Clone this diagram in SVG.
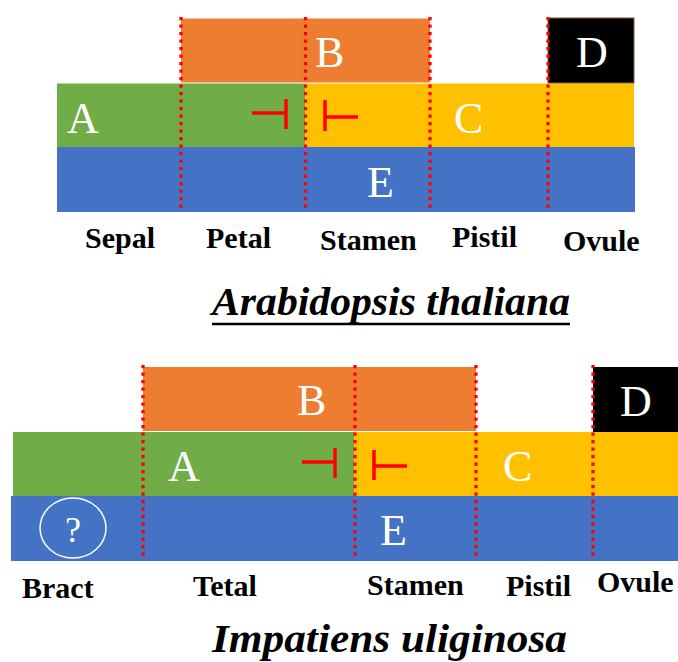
<svg xmlns="http://www.w3.org/2000/svg" width="678" height="662" viewBox="0 0 678 662">
<style>
.o{fill:#ED7D31}.g{fill:#70AD47}.y{fill:#FFC000}.b{fill:#4472C4}.k{fill:#000}
.L{font-family:"Liberation Serif","Times New Roman",serif;font-size:44px;fill:#fff}
.lab{font-family:"Liberation Serif","Times New Roman",serif;font-size:30px;font-weight:bold;fill:#000}
.sp{font-family:"Liberation Serif","Times New Roman",serif;font-size:41px;font-weight:bold;font-style:italic;fill:#000}
.dash{stroke:#FF0000;stroke-width:3.3;stroke-dasharray:3.3 4.2;fill:none}
.inh{stroke:#FF0000;stroke-width:3.5;fill:none}
</style>
<rect width="678" height="662" fill="#fff"/>
<!-- Top diagram -->
<g id="top-E"><rect class="b" x="57" y="147" width="578" height="65"/><text class="L" x="367" y="197">E</text></g>
<g id="top-A"><rect class="g" x="57" y="83.5" width="248" height="63.5"/><text class="L" x="67" y="133">A</text></g>
<g id="top-C"><rect class="y" x="305" y="83.5" width="329" height="63.5"/><text class="L" x="454" y="133">C</text></g>
<g id="top-B"><rect class="o" x="181" y="18.5" width="249" height="64"/><text class="L" x="315" y="67">B</text></g>
<g id="top-D"><rect class="k" x="548" y="18" width="86" height="65" stroke="#7f5a2a" stroke-width="1"/><text class="L" x="576" y="67">D</text></g>
<g id="top-connectors">
<line class="dash" x1="181" y1="17" x2="181" y2="212"/>
<line class="dash" x1="305.5" y1="17" x2="305.5" y2="212"/>
<line class="dash" x1="430" y1="17" x2="430" y2="212"/>
<line class="dash" x1="548" y1="17" x2="548" y2="212"/>
<path class="inh" d="M252 113H286M286 99V129"/>
<path class="inh" d="M325 100V131M325 117H358"/>
</g>
<g id="top-labels">
<text class="lab" x="85" y="248">Sepal</text>
<text class="lab" x="206" y="248">Petal</text>
<text class="lab" x="320" y="250">Stamen</text>
<text class="lab" x="452" y="247">Pistil</text>
<text class="lab" x="563" y="251">Ovule</text>
</g>
<g id="top-title">
<text class="sp" x="212" y="315" textLength="358" lengthAdjust="spacingAndGlyphs">Arabidopsis thaliana</text>
<line x1="212" y1="324" x2="570" y2="324" stroke="#000" stroke-width="2.5"/>
</g>
<!-- Bottom diagram -->
<g id="bot-E"><rect class="b" x="11" y="496" width="667" height="65"/><text class="L" x="380" y="545">E</text></g>
<g id="bot-bract"><ellipse cx="73" cy="528" rx="33" ry="30" fill="none" stroke="#fff" stroke-width="1.5"/><text x="73" y="542" text-anchor="middle" font-family="Liberation Serif,serif" font-size="36" fill="#fff">?</text></g>
<g id="bot-A"><rect class="g" x="13" y="432" width="341" height="64"/><text class="L" x="168" y="481">A</text></g>
<g id="bot-C"><rect class="y" x="354" y="432" width="324" height="64"/><text class="L" x="503" y="481">C</text></g>
<g id="bot-B"><rect class="o" x="143" y="367" width="333" height="64"/><text class="L" x="297" y="415">B</text></g>
<g id="bot-D"><rect class="k" x="593" y="367" width="85" height="65"/><text class="L" x="620" y="416">D</text></g>
<g id="bot-connectors">
<line class="dash" x1="143" y1="365" x2="143" y2="558"/>
<line class="dash" x1="355" y1="365" x2="355" y2="558"/>
<line class="dash" x1="476" y1="365" x2="476" y2="558"/>
<line class="dash" x1="593" y1="365" x2="593" y2="558"/>
<path class="inh" d="M302 462H335M335 448V478"/>
<path class="inh" d="M374 450V480M374 466H407"/>
</g>
<g id="bot-labels">
<text class="lab" x="22" y="598">Bract</text>
<text class="lab" x="193" y="596">Tetal</text>
<text class="lab" x="367" y="595">Stamen</text>
<text class="lab" x="506" y="596">Pistil</text>
<text class="lab" x="597" y="592">Ovule</text>
</g>
<g id="bot-title">
<text class="sp" x="212" y="652" textLength="355" lengthAdjust="spacingAndGlyphs">Impatiens uliginosa</text>
</g>
</svg>
